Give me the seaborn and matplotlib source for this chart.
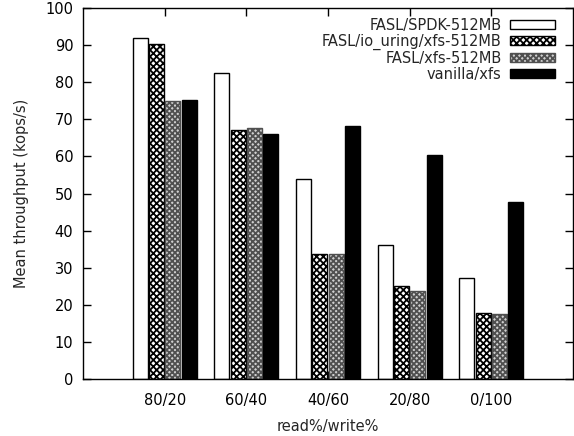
import matplotlib
matplotlib.use("Agg")
import matplotlib.pyplot as plt
import seaborn as sns
import pandas as pd

categories = ["80/20", "60/40", "40/60", "20/80", "0/100"]
series_names = ["FASL/SPDK-512MB", "FASL/io_uring/xfs-512MB", "FASL/xfs-512MB", "vanilla/xfs"]
spdk = [92.0, 82.5, 54.0, 36.2, 27.2]
io_uring = [90.3, 67.0, 33.7, 25.0, 17.7]
xfs = [75.0, 67.7, 33.7, 23.7, 17.5]
vanilla = [75.3, 66.0, 68.2, 60.3, 47.7]
y_ticks = [0, 10, 20, 30, 40, 50, 60, 70, 80, 90, 100]

rows = []
for name, vals in zip(series_names, [spdk, io_uring, xfs, vanilla]):
    for c, v in zip(categories, vals):
        rows.append({"mix": c, "series": name, "value": v})
df = pd.DataFrame(rows)

sns.set_theme(style="white")
plt.rcParams["font.family"] = ["DejaVu Sans"]
plt.rcParams["hatch.linewidth"] = 1.3

fig = plt.figure(figsize=(5.74, 4.36), dpi=100)
ax = fig.add_axes([83 / 574, 1 - 379 / 436, 490 / 574, 371 / 436])

palette = {"FASL/SPDK-512MB": "white", "FASL/io_uring/xfs-512MB": "white",
           "FASL/xfs-512MB": "#d0d0d0", "vanilla/xfs": "black"}
sns.barplot(data=df, x="mix", y="value", hue="series", hue_order=series_names,
            order=categories, palette=palette, width=0.8, gap=0.08, saturation=1,
            edgecolor="black", linewidth=1, legend=False, ax=ax)

hatches = [None, "xxxxx", "xxxxxx", None]
hatch_edges = ["black", "black", "#505050", "black"]
for cont, h, ec in zip(ax.containers, hatches, hatch_edges):
    for p in cont.patches:
        if h:
            p.set_hatch(h)
        p.set_edgecolor(ec)

fs = 10.5
ax.set_xlim(-1, 5)
ax.set_ylim(0, 100)
ax.set_yticks(y_ticks)
ax.set_ylabel("Mean throughput (kops/s)", fontsize=fs, labelpad=12)
ax.set_xlabel("read%/write%", fontsize=fs, labelpad=8)
ax.tick_params(direction="in", length=6, width=1, top=True, right=True,
               bottom=True, left=True, labelsize=fs, colors="black")
ax.tick_params(axis="x", labeltop=False, pad=10)
ax.tick_params(axis="y", labelright=False, pad=7)
for s in ax.spines.values():
    s.set_color("black")
    s.set_linewidth(1)

ax.legend(ax.containers, series_names, loc="upper right",
          bbox_to_anchor=(0.987, 1.005), frameon=False, markerfirst=False,
          fontsize=fs, handlelength=3.1, handleheight=0.55,
          labelspacing=0.06, handletextpad=0.55, borderaxespad=0.4)

fig.savefig("out.png", dpi=100)
